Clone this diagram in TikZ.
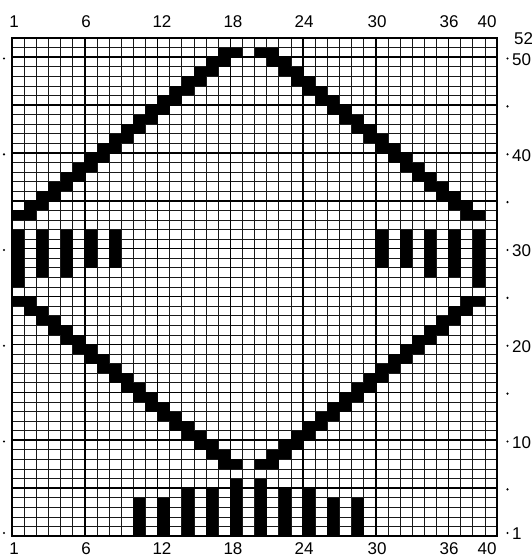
\documentclass[tikz,border=0pt]{standalone}
\usepackage{fontspec}
\setmainfont{Liberation Sans}
\begin{document}
\begin{tikzpicture}[x=1pt,y=-1pt,
  thingrid/.style={line width=0.7pt, black!90},
  thickgrid/.style={line width=1.5pt, black},
  chartframe/.style={line width=1.9pt, black},
  lab/.style={font=\fontsize{17}{17}\selectfont, inner sep=0pt},
  dotmark/.style={circle, fill=black, inner sep=0pt, minimum size=2.4pt}]
\useasboundingbox (0,0) rectangle (532,560);
\clip (0,0) rectangle (532,560);
\def\cw{12.125}
\def\rh{9.577}
% grid
\foreach \c in {1,...,39} { \draw[thingrid] ({12+\c*\cw},38.2) -- ({12+\c*\cw},536); }
\foreach \r in {1,...,51} { \draw[thingrid] (12,{536-\r*\rh}) -- (497,{536-\r*\rh}); }
\foreach \c in {6,12,...,36} { \draw[thickgrid] ({12+\c*\cw},38.2) -- ({12+\c*\cw},536); }
\foreach \r in {5,10,...,50} { \draw[thickgrid] (12,{536-\r*\rh}) -- (497,{536-\r*\rh}); }
% diamond, upper half
\foreach \r in {34,...,51} {
  \fill ({12+(\r-34)*\cw},{536-\r*\rh}) rectangle ++({2*\cw},\rh);
  \fill ({12+(71-\r)*\cw},{536-\r*\rh}) rectangle ++({2*\cw},\rh);
}
% diamond, lower half
\foreach \r in {8,...,25} {
  \fill ({12+(25-\r)*\cw},{536-\r*\rh}) rectangle ++({2*\cw},\rh);
  \fill ({12+(12+\r)*\cw},{536-\r*\rh}) rectangle ++({2*\cw},\rh);
}
% bars (column / top row / bottom row)
\foreach \c/\t/\b in {1/32/27,3/32/28,5/32/28,7/32/29,9/32/29,
                      31/32/29,33/32/29,35/32/28,37/32/28,39/32/27,
                      11/4/1,13/4/1,15/5/1,17/5/1,19/6/1,21/6/1,23/5/1,25/5/1,27/4/1,29/4/1} {
  \fill ({12+(\c-1)*\cw},{536-\t*\rh}) rectangle ({12+\c*\cw},{536-(\b-1)*\rh});
}
\draw[chartframe] (12,38.2) rectangle (497,536);
% column labels
\foreach \n/\x in {1/14,6/86,12/162,18/233,24/304,30/377,36/449,40/487} {
  \node[lab] (top\n) at (\x,22) {\n};
  \node[lab] (bot\n) at (\x,549) {\n};
}
% row labels
\node[lab, anchor=west] (r52) at (514,38.5) {52};
\foreach \n/\y in {50/58.5,40/154.3,30/250,20/345.7,10/441.5,1/533} {
  \node[dotmark] (rd\n) at (507.5,\y) {};
  \node[lab, anchor=west] (rl\n) at (512,{\y+1}) {\n};
  \node[dotmark] (ld\n) at (4,\y) {};
}
\foreach \y in {106.4,202.1,297.9,393.6,489.4} {
  \node[dotmark] at (507.5,\y) {};
}
\end{tikzpicture}
\end{document}
